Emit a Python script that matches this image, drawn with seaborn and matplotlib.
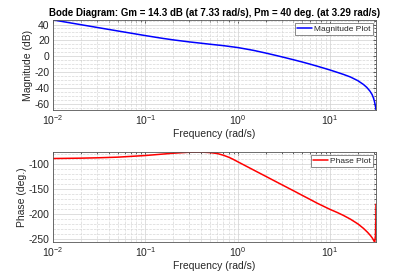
import pandas as pd
import matplotlib
matplotlib.use('Agg')
import matplotlib.pyplot as plt
import matplotlib.ticker as mticker
import seaborn as sns

# Values
mag_freq = [0.01, 0.02, 0.03, 0.05, 0.1, 0.15, 0.2, 0.3, 0.4, 0.5, 0.7, 1.0, 1.25, 1.5,
            2.0, 2.6, 3.29, 4.2, 5.0, 6.0, 7.33, 9.0, 10.0, 12.0, 14.0, 16.6, 20.0,
            23.0, 25.0, 27.0, 28.5, 29.5, 30.2, 30.8, 31.2, 31.42]
mag_db = [45.8, 39.8, 36.3, 31.9, 26.0, 22.7, 20.6, 18.0, 16.4, 15.1, 13.3, 10.9, 8.9, 7.2,
          4.0, 0.9, -2.0, -5.1, -7.4, -9.9, -12.8, -15.9, -17.5, -20.5, -23.1, -26.3, -31.0,
          -35.8, -39.5, -44.1, -48.5, -52.8, -57.0, -61.5, -65.0, -68.0]

phase_freq = [0.01, 0.02, 0.03, 0.05, 0.1, 0.15, 0.2, 0.3, 0.4, 0.5, 0.6, 0.7, 0.8, 0.9,
              1.0, 1.5, 2.0, 2.6, 3.29, 4.2, 5.0, 6.0, 7.33, 10.0, 12.0, 14.0, 16.6, 20.0,
              23.0, 25.5, 27.4, 28.7, 29.6, 30.4, 31.0, 31.3, 31.42]
phase_deg = [-88.5, -87.8, -87.1, -85.8, -82.5, -79.8, -77.9, -75.9, -75.6, -76.6, -78.5,
             -82.0, -86.0, -90.5, -95.0, -112.0, -124.0, -135.0, -144.8, -155.0, -162.4,
             -170.0, -178.5, -190.5, -196.8, -202.7, -210.0, -219.5, -228.5, -236.5, -243.0,
             -248.0, -252.3, -256.0, -245.0, -215.0, -180.0]

title = 'Bode Diagram: Gm = 14.3 dB (at 7.33 rad/s), Pm = 40 deg. (at 3.29 rad/s)'

mag_df = pd.DataFrame({'freq': mag_freq, 'mag': mag_db})
phase_df = pd.DataFrame({'freq': phase_freq, 'phase': phase_deg})

sns.set_theme(style='white')
plt.rcParams['font.family'] = ['Liberation Sans', 'DejaVu Sans']
plt.rcParams['axes.unicode_minus'] = False

fig = plt.figure(figsize=(4.15, 2.77), dpi=100)
ax1 = fig.add_axes([0.128, 0.603, 0.778, 0.325])
ax2 = fig.add_axes([0.128, 0.126, 0.778, 0.325])

sns.lineplot(data=mag_df, x='freq', y='mag', ax=ax1, color='#0000ff', lw=1.1,
             label='Magnitude Plot', sort=False)
sns.lineplot(data=phase_df, x='freq', y='phase', ax=ax2, color='#ff0000', lw=1.1,
             label='Phase Plot', sort=False)

grey = '#262626'
for ax, ylab in [(ax1, 'Magnitude (dB)'), (ax2, 'Phase (deg.)')]:
    ax.set_xscale('log')
    ax.set_xlim(0.01, 31.42)
    ax.xaxis.set_major_locator(mticker.LogLocator(base=10, numticks=10))
    ax.xaxis.set_minor_locator(mticker.LogLocator(base=10, subs=range(2, 10), numticks=20))
    ax.xaxis.set_minor_formatter(mticker.NullFormatter())
    ax.grid(True, which='major', color='#d0d0d0', linestyle='-', lw=0.5)
    ax.grid(True, which='minor', color='#d8d8d8', linestyle='--', lw=0.5)
    ax.set_axisbelow(True)
    ax.tick_params(which='both', direction='in', top=True, right=True, colors=grey,
                   labelsize=7.5, length=2.5, width=0.5, pad=2.5)
    ax.tick_params(which='minor', length=1.5)
    ax.set_xlabel('Frequency (rad/s)', fontsize=7.5, color=grey, labelpad=1.5)
    ax.set_ylabel(ylab, fontsize=7.5, color=grey, labelpad=1)
    for s in ax.spines.values():
        s.set_color('#555555')
        s.set_linewidth(0.6)
    leg = ax.legend(loc='upper right', fontsize=6, frameon=True, fancybox=False,
                    borderpad=0.25, handlelength=1.8, handletextpad=0.3,
                    borderaxespad=0.35)
    leg.get_frame().set_edgecolor('#333333')
    leg.get_frame().set_linewidth(0.5)

ax1.set_ylim(min(mag_db), max(mag_db))
ax1.yaxis.set_major_locator(mticker.MultipleLocator(20))
ax1.yaxis.set_minor_locator(mticker.MultipleLocator(5))
ax2.set_ylim(min(phase_deg), max(phase_deg))
ax2.yaxis.set_major_locator(mticker.MultipleLocator(50))
ax2.yaxis.set_minor_locator(mticker.MultipleLocator(10))

ax1.set_title(title, fontsize=7, fontweight='bold', color='black', pad=3)

fig.savefig('out.png', dpi=100)
